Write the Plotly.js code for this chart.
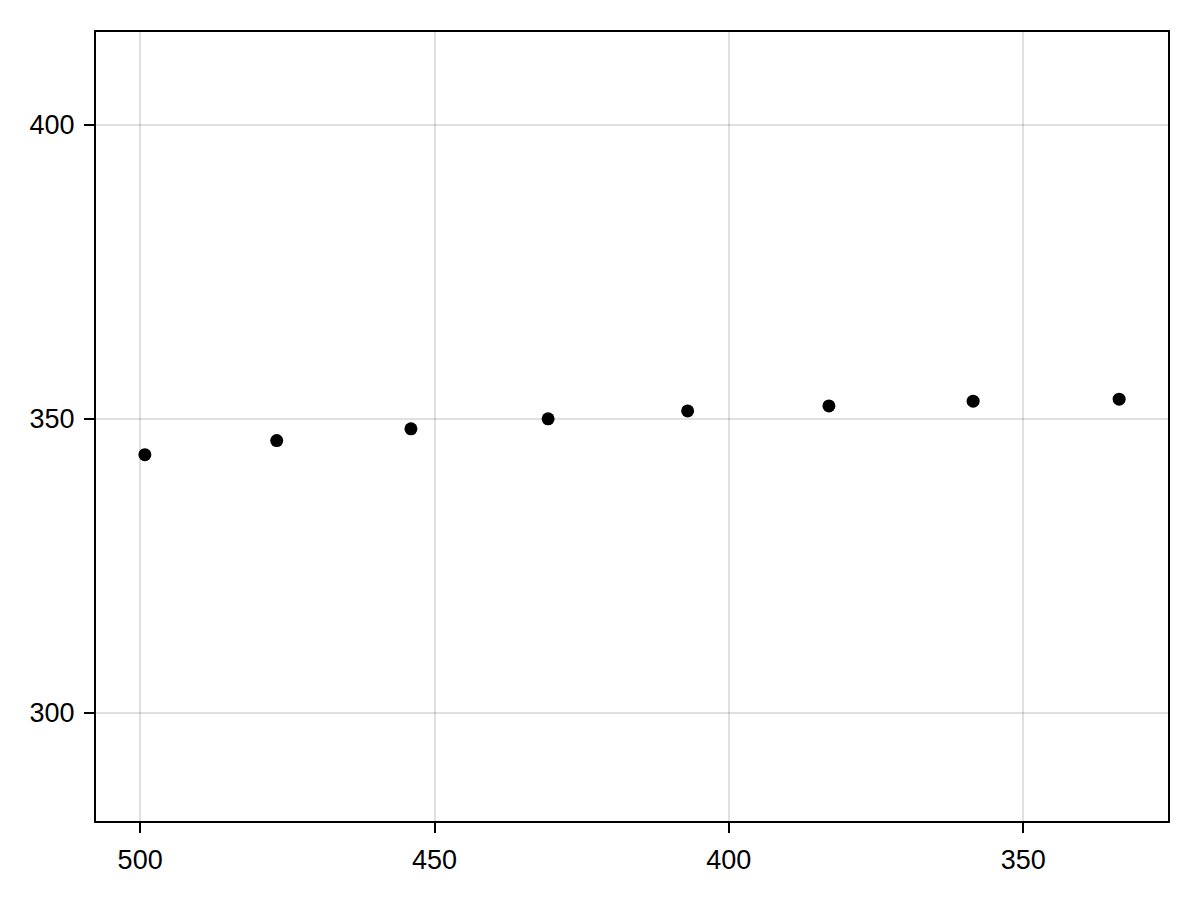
<!DOCTYPE html>
<html>
<head>
<meta charset="utf-8">
<script src="https://cdn.plot.ly/plotly-3.0.1.min.js"></script>
<style>
  body { margin: 0; background: #fff; }
  #chart { width: 1200px; height: 900px; }
</style>
</head>
<body>
<div id="chart"></div>
<script>
const xValues = [499.2, 476.8, 454.0, 430.7, 407.0, 383.0, 358.5, 333.7];
const yValues = [343.9, 346.3, 348.3, 350.0, 351.35, 352.2, 353.0, 353.35];
const xTicks = [500, 450, 400, 350];
const yTicks = [300, 350, 400];

document.addEventListener("DOMContentLoaded", () => {
    var trace1 = {
        x: xValues,
        y: yValues,
        type: 'scatter',
        mode: 'markers',
        marker: { color: 'black', size: 13 },
        hoverinfo: 'none'
    };

    const axisCommon = {
        showline: true,
        mirror: true,
        linecolor: 'black',
        linewidth: 2,
        ticks: 'outside',
        ticklen: 10,
        tickwidth: 2,
        tickcolor: 'black',
        showgrid: true,
        gridcolor: 'rgba(0,0,0,0.12)',
        gridwidth: 2,
        zeroline: false,
        fixedrange: true,
        tickfont: { family: 'Liberation Sans, Arial, sans-serif', size: 27, color: 'black' }
    };

    const layout = {
        width: 1200,
        height: 900,
        paper_bgcolor: 'white',
        plot_bgcolor: 'white',
        showlegend: false,
        margin: { l: 96, r: 32, t: 32, b: 79, pad: 0 },
        xaxis: Object.assign({}, axisCommon, {
            range: [507.5, 325.4],
            tickvals: xTicks,
            ticktext: xTicks.map(String),
            ticklabelstandoff: 4
        }),
        yaxis: Object.assign({}, axisCommon, {
            range: [281.6, 415.8],
            tickvals: yTicks,
            ticktext: yTicks.map(String),
            ticklabelstandoff: 4
        })
    };

    Plotly.newPlot('chart', [trace1], layout, { displayModeBar: false, staticPlot: true });
});
</script>
</body>
</html>
